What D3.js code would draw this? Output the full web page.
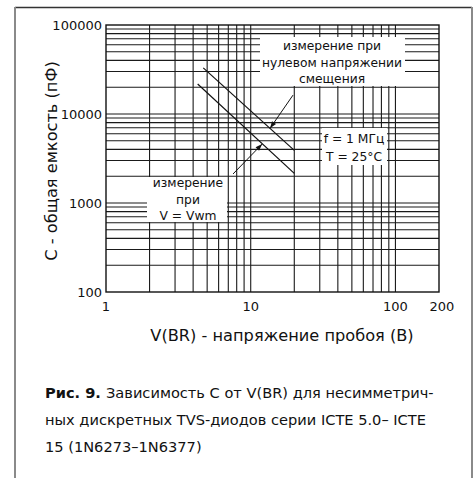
<!DOCTYPE html>
<html>
<head>
<meta charset="utf-8">
<script src="https://cdn.jsdelivr.net/npm/d3@7"></script>
<style>
  body { margin: 0; background: #fff; }
  text { font-family: "DejaVu Sans", sans-serif; fill: #111; }
</style>
</head>
<body>
<script>
// axis ticks
var xTicks = [1, 10, 100, 200]
var yTicks = [100, 1000, 10000, 100000]

// measured curves (log-log straight lines)
var zeroBiasV = [4.7, 20]
var zeroBiasC = [33000, 3900]
var vwmV = [4.3, 20]
var vwmC = [21700, 2150]

// arrow annotations: [tail V, tail C, tip V, tip C]
var zeroArrow = [19.6, 16300, 13.6, 6900]
var vwmArrow = [7.55, 2120, 12.0, 4600]

var zeroLabel = ['измерение при', 'нулевом напряжении', 'смещения']
var vwmLabel = ['измерение', 'при', 'V = Vwm']
var condLabel = ['f = 1 МГц', 'T = 25°C']

var width = 475, height = 478
var margin = {top: 25, right: 36, bottom: 186, left: 106}

var svg = d3.select('body').append('svg')
  .attr('width', width).attr('height', height)

// outer frame
svg.append('line').attr('x1', 15).attr('x2', 472).attr('y1', 7.5).attr('y2', 7.5)
  .attr('stroke', '#333').attr('stroke-width', 1.5)
svg.append('line').attr('x1', 15).attr('x2', 15).attr('y1', 7).attr('y2', height)
  .attr('stroke', '#8a8a8a').attr('stroke-width', 2)
svg.append('line').attr('x1', 472).attr('x2', 472).attr('y1', 7).attr('y2', height)
  .attr('stroke', '#8a8a8a').attr('stroke-width', 2)

var x = d3.scaleLog().domain([1, 200]).range([margin.left, width - margin.right])
var y = d3.scaleLog().domain([100, 100000]).range([height - margin.bottom, margin.top])

// grid values: every 1..9 step in each decade
var xGrid = [], yGrid = []
for (var d = 1; d <= 10; d *= 10)
  for (var k = 2; k <= 9; k++) xGrid.push(d * k)
xGrid.push(10, 100)
for (var d = 100; d <= 10000; d *= 10)
  for (var k = 2; k <= 9; k++) yGrid.push(d * k)
yGrid.push(1000, 10000)

var g = svg.append('g')
g.selectAll('line.vx').data(xGrid).enter().append('line')
  .attr('x1', d => x(d)).attr('x2', d => x(d))
  .attr('y1', y(100000)).attr('y2', y(100))
  .attr('stroke', '#1a1a1a').attr('stroke-width', 1.1)
g.selectAll('line.hy').data(yGrid).enter().append('line')
  .attr('y1', d => y(d)).attr('y2', d => y(d))
  .attr('x1', x(1)).attr('x2', x(200))
  .attr('stroke', '#1a1a1a').attr('stroke-width', 1.1)
g.append('rect')
  .attr('x', x(1)).attr('y', y(100000))
  .attr('width', x(200) - x(1)).attr('height', y(100) - y(100000))
  .attr('fill', 'none').attr('stroke', '#111').attr('stroke-width', 1.4)

// curves
var line = d3.line().x(d => x(d[0])).y(d => y(d[1]))
g.append('path').datum(d3.zip(zeroBiasV, zeroBiasC)).attr('d', line)
  .attr('fill', 'none').attr('stroke', '#111').attr('stroke-width', 1.2)
g.append('path').datum(d3.zip(vwmV, vwmC)).attr('d', line)
  .attr('fill', 'none').attr('stroke', '#111').attr('stroke-width', 1.2)

// arrowheads
svg.append('defs').append('marker')
  .attr('id', 'ah').attr('viewBox', '0 0 10 10').attr('refX', 10).attr('refY', 5)
  .attr('markerWidth', 9).attr('markerHeight', 7).attr('orient', 'auto')
  .attr('markerUnits', 'userSpaceOnUse')
  .append('path').attr('d', 'M0,1.5 L10,5 L0,8.5 Z').attr('fill', '#111')

;[zeroArrow, vwmArrow].forEach(function (a) {
  g.append('line')
    .attr('x1', x(a[0])).attr('y1', y(a[1]))
    .attr('x2', x(a[2])).attr('y2', y(a[3]))
    .attr('stroke', '#111').attr('stroke-width', 1)
    .attr('marker-end', 'url(#ah)')
})

// label boxes
function labelBox(lines, bx, by, bw, bh, cx, y0, dy) {
  svg.append('rect').attr('x', bx).attr('y', by).attr('width', bw).attr('height', bh)
    .attr('fill', '#fff')
  svg.selectAll(null).data(lines).enter().append('text')
    .attr('x', cx).attr('y', (d, i) => y0 + i * dy)
    .attr('text-anchor', 'middle').attr('font-size', 12.3)
    .text(d => d)
}
labelBox(zeroLabel, 260, 37, 145, 49, 332, 50, 16.5)
labelBox(vwmLabel, 147, 177, 80, 45, 188, 187, 16.5)
labelBox(condLabel, 322, 128, 65, 37, 354, 143, 17.5)

// tick labels
svg.selectAll('text.yt').data(yTicks).enter().append('text')
  .attr('x', 102).attr('y', d => y(d) + 5)
  .attr('text-anchor', 'end').attr('font-size', 13)
  .text(d => d)
svg.selectAll('text.xt').data(xTicks).enter().append('text')
  .attr('x', d => x(d) + (d == 200 ? 3 : 0)).attr('y', 311)
  .attr('text-anchor', 'middle').attr('font-size', 13)
  .text(d => d)

// axis titles
svg.append('text').attr('x', 282).attr('y', 341)
  .attr('text-anchor', 'middle').attr('font-size', 16.2)
  .text('V(BR) - напряжение пробоя (В)')
svg.append('text')
  .attr('transform', 'translate(57,161) rotate(-90)')
  .attr('text-anchor', 'middle').attr('font-size', 16.2)
  .text('C - общая емкость (пФ)')

// caption
var cap = svg.append('g').attr('font-size', 14.6)
var t1 = cap.append('text').attr('x', 45).attr('y', 398)
t1.append('tspan').attr('font-weight', 'bold').text('Рис. 9. ')
t1.append('tspan').text('Зависимость С от V(BR) для несимметрич-')
cap.append('text').attr('x', 45).attr('y', 425)
  .text('ных дискретных TVS-диодов серии ICTE 5.0– ICTE')
cap.append('text').attr('x', 45).attr('y', 452)
  .text('15 (1N6273–1N6377)')
</script>
</body>
</html>
